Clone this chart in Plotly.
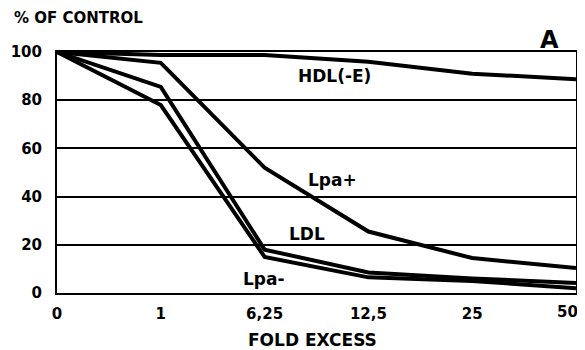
import plotly.graph_objects as go

x_labels = ["0", "1", "6,25", "12,5", "25", "50"]
x_pos = [0, 1, 2, 3, 4, 5]
hdl = [100, 98.8, 98.8, 96, 91, 88.7]
lpa_plus = [100, 95.5, 52, 25.5, 14.5, 10.4]
ldl = [100, 85.5, 18, 8.5, 6, 4.2]
lpa_minus = [100, 78, 15, 6.5, 5, 2]
y_ticks = [0, 20, 40, 60, 80, 100]

FONT = "DejaVu Sans"
fig = go.Figure()
for ys in [hdl, lpa_plus, ldl, lpa_minus]:
    fig.add_trace(go.Scatter(x=x_pos, y=ys, mode="lines",
                             line=dict(color="black", width=4),
                             showlegend=False, hoverinfo="skip"))

labels = [("HDL(-E)", 2.67, 90.0), ("Lpa+", 2.65, 46.9), ("LDL", 2.41, 24.5), ("Lpa-", 1.99, 5.8)]
for txt, xx, yy in labels:
    fig.add_annotation(x=xx, y=yy, text="<b>%s</b>" % txt, showarrow=False,
                       font=dict(family=FONT, size=17, color="black"),
                       xanchor="center", yanchor="middle")

fig.add_annotation(xref="paper", yref="paper", x=-0.0867, y=1.141, text="<b>% OF CONTROL</b>",
                   showarrow=False, xanchor="left", yanchor="middle",
                   font=dict(family=FONT, size=15, color="black"))
fig.add_annotation(xref="paper", yref="paper", x=0.948, y=1.050, text="<b>A</b>",
                   showarrow=False, xanchor="center", yanchor="middle",
                   font=dict(family=FONT, size=24, color="black"))
fig.add_annotation(xref="paper", yref="paper", x=(312 - 57) / 519, y=(293 - 340) / 241,
                   text="<b>FOLD EXCESS</b>", showarrow=False, xanchor="center", yanchor="middle",
                   font=dict(family=FONT, size=17, color="black"))
# last tick label placed so that it stays inside the window, as in the reference
fig.add_annotation(x=x_pos[-1], yref="paper", y=(293 - 312) / 241, text="<b>%s</b>" % x_labels[-1],
                   showarrow=False, xanchor="right", yanchor="middle", xshift=4,
                   font=dict(family=FONT, size=15, color="black"))

tick_text = ["<b>%s</b>" % t for t in x_labels[:-1]] + [""]

fig.update_layout(
    width=577, height=342,
    margin=dict(l=49, r=9, t=44, b=57, autoexpand=False),
    paper_bgcolor="white", plot_bgcolor="white",
    font=dict(family=FONT, color="black"),
    xaxis=dict(range=[0, 5], tickvals=x_pos, ticktext=tick_text,
               showgrid=False, zeroline=False, showline=True, mirror=True, automargin=False,
               linecolor="black", linewidth=2, ticks="", ticklabelstandoff=6,
               ticklabeloverflow="allow",
               tickfont=dict(family=FONT, size=15, color="black")),
    yaxis=dict(range=[0, 100], tickvals=y_ticks, ticktext=["<b>%d</b>" % v for v in y_ticks],
               showgrid=True, gridcolor="black", gridwidth=2, zeroline=False, automargin=False,
               showline=True, mirror=True, linecolor="black", linewidth=2, ticks="",
               ticklabelstandoff=10, ticklabeloverflow="allow",
               tickfont=dict(family=FONT, size=15, color="black")),
)
fig.write_html("out.html")
